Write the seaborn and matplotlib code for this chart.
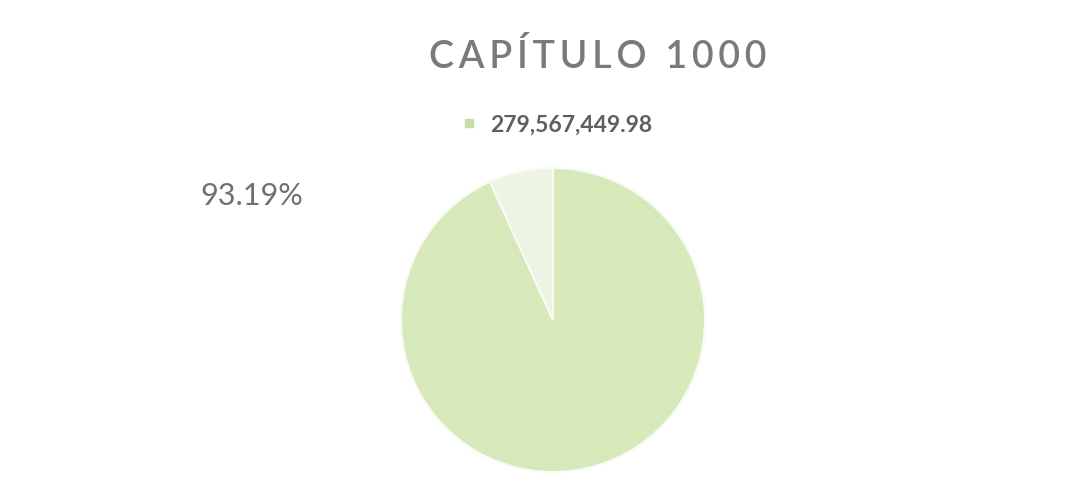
import seaborn as sns
import matplotlib.pyplot as plt
from matplotlib.lines import Line2D

# data
shares = [93.19, 6.81]
legend_labels = ["279,567,449.98"]
pct_labels = ["93.19%"]
title = "CAPÍTULO 1000"

sns.set_theme(style="white")
plt.rcParams['font.family'] = ['Lato', 'DejaVu Sans']

colors = ["#d7e8bb", "#eef4e4"]

fig = plt.figure(figsize=(10.8, 4.93), dpi=100)
fig.patch.set_facecolor("white")

# pie axes: center ~(553,320) px, radius ~152 px
ax = fig.add_axes([(553 - 152) / 1080, (493 - 472) / 493, 304 / 1080, 304 / 493])
ax.pie(shares, colors=colors, startangle=90, counterclock=False,
       wedgeprops=dict(edgecolor="#f7fbf0", linewidth=1.5))
ax.set_xlim(-1, 1)
ax.set_ylim(-1, 1)
ax.axis("off")

spaced = "\u2009".join(title)
fig.text(598 / 1080, 1 - 57 / 493, spaced, ha="center", va="center",
         fontsize=27, color="#7a7a7a", fontweight="semibold")

handles = [Line2D([0], [0], marker="s", linestyle="", markersize=5.5,
                  markerfacecolor="#c9dea6", markeredgecolor="#c9dea6")]
fig.legend(handles, legend_labels, loc="center", bbox_to_anchor=(555 / 1080, 1 - 125 / 493),
           frameon=False, handletextpad=0.4, handlelength=1.0,
           prop=dict(weight="bold", size=16.5))
fig.legends[0].get_texts()[0].set_color("#5f5f5f")

fig.text(252 / 1080, 1 - 196 / 493, pct_labels[0], ha="center", va="center",
         fontsize=22, color="#707070")

plt.savefig("out.png", dpi=100)
